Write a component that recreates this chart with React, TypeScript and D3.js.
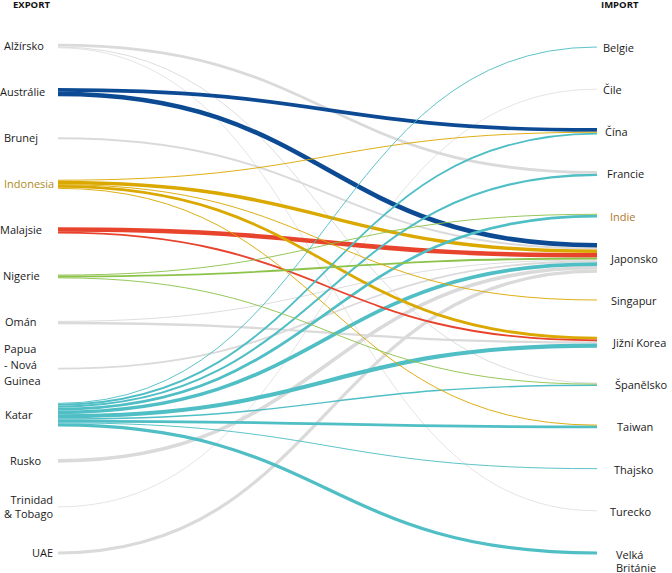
import React from "react";
import * as d3 from "d3";

const exporters = ["Alžírsko", "Austrálie", "Brunej", "Indonesia", "Malajsie", "Nigerie", "Omán", "Papua\n- Nová\nGuinea", "Katar", "Rusko", "Trinidad\n& Tobago", "UAE"];
const importers = ["Belgie", "Čile", "Čína", "Francie", "Indie", "Japonsko", "Singapur", "Jižní Korea", "Španělsko", "Taiwan", "Thajsko", "Turecko", "Velká\nBritánie"];

// [exporter index, importer index, value]
const flows: [number, number, number][] = [
  [0, 3, 3], [0, 8, 1], [0, 11, 0.8],
  [1, 2, 4], [1, 5, 5],
  [2, 5, 2.2],
  [3, 2, 1], [3, 5, 3.8], [3, 6, 1], [3, 7, 3], [3, 9, 1],
  [4, 5, 5], [4, 7, 2],
  [5, 4, 1], [5, 5, 2], [5, 8, 1],
  [6, 5, 1], [6, 7, 2.5],
  [7, 5, 2],
  [8, 0, 1], [8, 2, 2], [8, 3, 2.2], [8, 4, 3], [8, 5, 4], [8, 7, 4.5], [8, 8, 1.5], [8, 9, 3], [8, 10, 1], [8, 12, 3.5],
  [9, 5, 4],
  [10, 1, 0.8],
  [11, 5, 3.5],
];

const exporterColors = ["#dadada", "#0c4a93", "#dadada", "#dba800", "#e8432d", "#8dc24b", "#dadada", "#dadada", "#4fbec5", "#dadada", "#dadada", "#dadada"];

// layout
const W = 672, H = 573;
const X0 = 58, X1 = 597;
const leftLabelX = [4, 0, 4, 4, 0, 3, 5, 4, 5, 10, 53, 53];
const leftAnchor = ["start", "start", "start", "start", "start", "start", "start", "start", "start", "start", "end", "end"];
const rightLabelX = [603, 603, 605, 607, 610, 611, 611, 613, 615, 617, 614, 610, 616];

export default function App() {
  const yL = d3.scalePoint<number>().domain(d3.range(exporters.length)).range([46, 553]);
  const yR = d3.scalePoint<number>().domain(d3.range(importers.length)).range([47, 553]);
  const wScale = d3.scaleLinear().domain([0, 5]).range([0, 4.6]);

  // stacking at sources (by target index) and targets (by source index)
  const links = flows.map(([s, t, v], i) => ({ s, t, v, w: wScale(v), i, y0: 0, y1: 0 }));
  d3.range(exporters.length).forEach((s) => {
    const ls = links.filter((l) => l.s === s).sort((a, b) => a.t - b.t);
    const total = d3.sum(ls, (l) => l.w);
    let y = (yL(s) as number) - total / 2;
    ls.forEach((l) => { l.y0 = y + l.w / 2; y += l.w; });
  });
  d3.range(importers.length).forEach((t) => {
    const ls = links.filter((l) => l.t === t).sort((a, b) => a.s - b.s);
    const total = d3.sum(ls, (l) => l.w);
    let y = (yR(t) as number) - total / 2;
    ls.forEach((l) => { l.y1 = y + l.w / 2; y += l.w; });
  });

  const linkGen = d3.linkHorizontal<any, [number, number]>().source((d: any) => d[0]).target((d: any) => d[1]);
  const isGray = (s: number) => exporterColors[s] === "#dadada";
  const ordered = [...links].sort((a, b) => (isGray(b.s) ? 1 : 0) - (isGray(a.s) ? 1 : 0) || b.w - a.w);

  const font = "'Open Sans', 'Segoe UI', sans-serif";
  const labelColor = (name: string) => name === "Indonesia" ? "#b08a1e" : name === "Indie" ? "#b0782a" : "#1a1a1a";

  return (
    <svg width={W} height={H} style={{ position: "absolute", left: 0, top: 0 }} fontFamily={font}>
      <g fill="none">
        {ordered.map((l) => (
          <path key={l.i} d={linkGen([[X0, l.y0], [X1, l.y1]] as any) as string}
            stroke={exporterColors[l.s]} strokeWidth={l.w} />
        ))}
      </g>
      <text x={13} y={8} fontSize={9.5} fontWeight="bold" fill="#111">EXPORT</text>
      <text x={601} y={8} fontSize={9.5} fontWeight="bold" fill="#111">IMPORT</text>
      {exporters.map((name, i) => {
        const lines = name.split("\n");
        const lh = lines.length === 3 ? 16 : 14;
        const y0 = (yL(i) as number) - ((lines.length - 1) * lh) / 2 - (lines.length === 3 ? 3 : 0);
        return (
          <text key={name} x={leftLabelX[i]} textAnchor={leftAnchor[i] as any} fontSize={11} fill={labelColor(name)}>
            {lines.map((ln, k) => (
              <tspan key={k} x={leftLabelX[i]} y={y0 + k * lh} dy="0.35em">{ln}</tspan>
            ))}
          </text>
        );
      })}
      {importers.map((name, i) => {
        const lines = name.split("\n");
        const y0 = (yR(i) as number) + (lines.length > 1 ? 2 : 1);
        return (
          <text key={name} x={rightLabelX[i]} fontSize={11} fill={labelColor(name)}>
            {lines.map((ln, k) => (
              <tspan key={k} x={rightLabelX[i]} y={y0 + k * 13} dy="0.35em">{ln}</tspan>
            ))}
          </text>
        );
      })}
    </svg>
  );
}
